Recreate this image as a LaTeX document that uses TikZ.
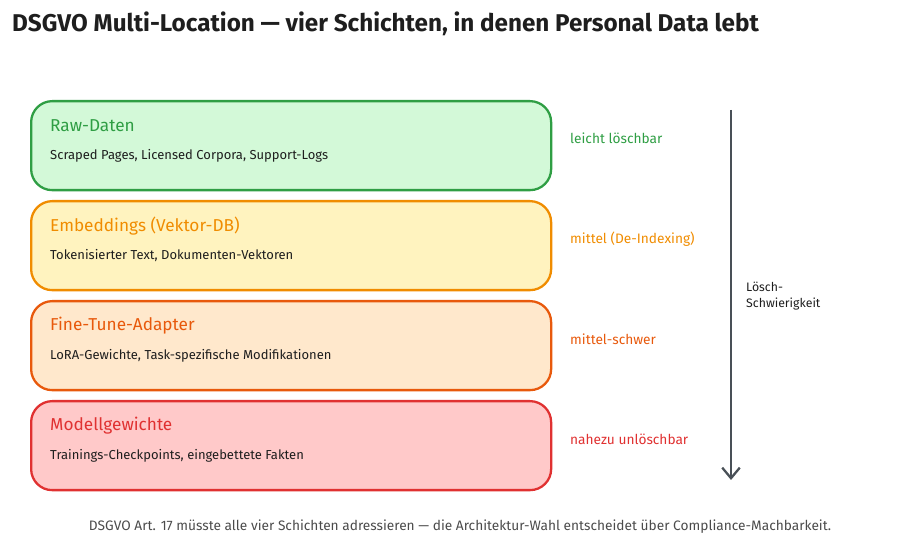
\documentclass[tikz,border=0pt]{standalone}
\usepackage{fontspec}
\setmainfont{Fira Sans}
\usetikzlibrary{arrows.meta, positioning}

\definecolor{gruenrand}{HTML}{2F9E44}
\definecolor{gruenfill}{HTML}{D3F9D8}
\definecolor{gelbrand}{HTML}{F08C00}
\definecolor{gelbfill}{HTML}{FFF3BF}
\definecolor{orangerand}{HTML}{E8590C}
\definecolor{orangefill}{HTML}{FFE8CC}
\definecolor{rotrand}{HTML}{E03131}
\definecolor{rotfill}{HTML}{FFC9C9}
\definecolor{tinte}{HTML}{1E1E1E}
\definecolor{pfeil}{HTML}{495057}

\tikzset{
    schicht/.style={draw=#1, line width=1.3pt, rounded corners=12pt, minimum width=520*0.02cm, minimum height=89*0.02cm, anchor=north west},
    titel/.style={anchor=west, text=#1, font=\fontsize{9.8}{11}\selectfont},
    detail/.style={anchor=west, text=tinte, font=\fontsize{7.4}{9}\selectfont},
    aufwand/.style={anchor=west, text=#1, font=\fontsize{7.8}{9}\selectfont}
}

\begin{document}
\begin{tikzpicture}[x=0.02cm, y=-0.02cm]
            \useasboundingbox (0,0) rectangle (920,560);

            \node[anchor=west, text=tinte, font=\fontsize{13.8}{16}\selectfont\bfseries] (ueberschrift) at (6,24) {DSGVO Multi-Location — vier Schichten, in denen Personal Data lebt};

            \node[schicht=gruenrand, fill=gruenfill] (rohdaten) at (30,100) {};
            \node[schicht=gelbrand, fill=gelbfill] (embeddings) at (30,200) {};
            \node[schicht=orangerand, fill=orangefill] (adapter) at (30,300) {};
            \node[schicht=rotrand, fill=rotfill] (gewichte) at (30,400) {};

            \node[titel=gruenrand] (rohdatentitel) at (44,126) {Raw-Daten};
            \node[detail] (rohdatendetail) at (44,156) {Scraped Pages, Licensed Corpora, Support-Logs};
            \node[titel=gelbrand] (embeddingstitel) at (44,226) {Embeddings (Vektor-DB)};
            \node[detail] (embeddingsdetail) at (44,256) {Tokenisierter Text, Dokumenten-Vektoren};
            \node[titel=orangerand] (adaptertitel) at (44,326) {Fine-Tune-Adapter};
            \node[detail] (adapterdetail) at (44,356) {LoRA-Gewichte, Task-spezifische Modifikationen};
            \node[titel=rotrand] (gewichtetitel) at (44,426) {Modellgewichte};
            \node[detail] (gewichtedetail) at (44,456) {Trainings-Checkpoints, eingebettete Fakten};

            \node[aufwand=gruenrand] (leicht) at (564,138) {leicht löschbar};
            \node[aufwand=gelbrand] (mittel) at (564,239) {mittel (De-Indexing)};
            \node[aufwand=orangerand] (mittelschwer) at (564,339) {mittel-schwer};
            \node[aufwand=rotrand] (nahezu) at (564,439) {nahezu unlöschbar};

            % Pfeil fuer die Loesch-Schwierigkeit
            \coordinate (pfeilanfang) at (731,110);
            \coordinate (pfeilende) at (731,480);
            \draw[-{Straight Barb[length=6pt, width=10pt]}, pfeil, line width=1.3pt] (pfeilanfang) -- (pfeilende);
            \node[anchor=west, align=left, text=tinte, font=\fontsize{7}{9}\selectfont] (schwierigkeit) at (740,296) {Lösch-\\Schwierigkeit};

            \node[text=tinte!80, font=\fontsize{7.8}{9}\selectfont] (fussnote) at (460,527) {DSGVO Art. 17 müsste alle vier Schichten adressieren — die Architektur-Wahl entscheidet über Compliance-Machbarkeit.};
        \end{tikzpicture}
\end{document}
